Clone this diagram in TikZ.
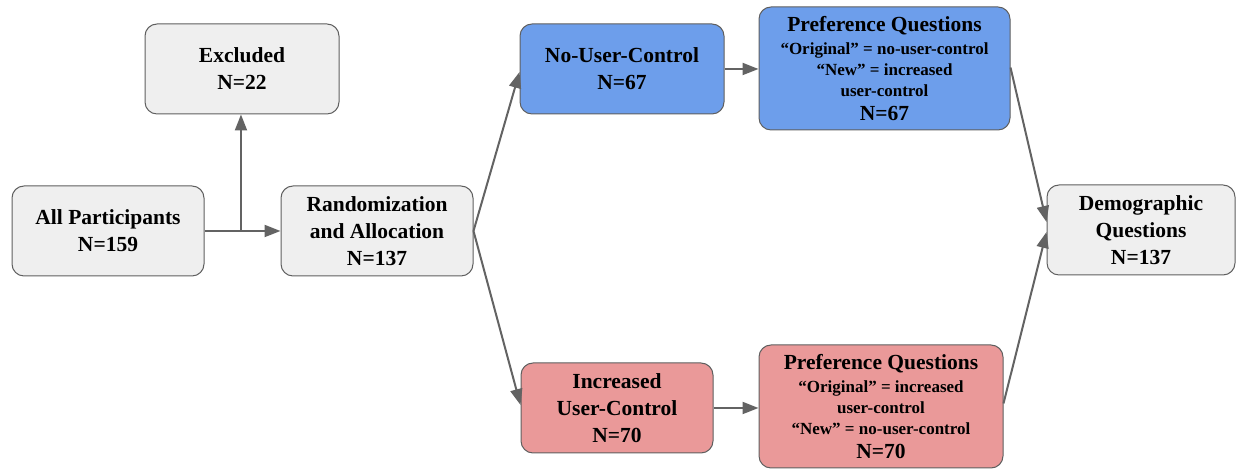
\documentclass[tikz,border=0pt]{standalone}
\usepackage{fontspec}
\setmainfont{LiberationSerif}[Extension=.ttf, UprightFont=*-Regular, BoldFont=*-Bold, ItalicFont=*-Italic, BoldItalicFont=*-BoldItalic]
\usetikzlibrary{arrows.meta,calc}
\definecolor{boxgray}{HTML}{EFEFEF}
\definecolor{boxblue}{HTML}{6D9EEB}
\definecolor{boxred}{HTML}{EA9999}
\definecolor{edgegray}{HTML}{5F5F5F}
\definecolor{linkgray}{HTML}{636363}
\newcommand{\subline}[1]{{\fontsize{17}{20}\selectfont #1}}
\tikzset{
  box/.style={draw=edgegray, line width=1pt, rounded corners=12pt, inner sep=0pt,
    align=center, font=\fontsize{21.5}{27}\selectfont\bfseries, text=black},
  graybox/.style={box, fill=boxgray},
  bluebox/.style={box, fill=boxblue},
  redbox/.style={box, fill=boxred},
  link/.style={draw=linkgray, line width=2pt, -{Triangle[length=16pt,width=12pt]}},
  plain/.style={draw=linkgray, line width=2pt}
}
\begin{document}
\begin{tikzpicture}[x=1pt,y=1pt]
\useasboundingbox (0,0) rectangle (1237,470);

\node[graybox, minimum width=194pt, minimum height=90pt] (excl) at (242,401) {Excluded\\N=22};
\node[graybox, minimum width=192pt, minimum height=90pt] (all) at (108,239) {All Participants\\N=159};
\node[graybox, minimum width=192pt, minimum height=90pt] (rand) at (377,239) {Randomization\\and Allocation\\N=137};
\node[bluebox, minimum width=204pt, minimum height=90pt] (nouser) at (622,401) {No-User-Control\\N=67};
\node[bluebox, minimum width=251pt, minimum height=123pt] (preftop) at (884.5,401.5)
  {Preference Questions\\[-4pt]
   \subline{“Original” = no-user-control}\\[-6pt]
   \subline{“New” = increased}\\[-6pt]
   \subline{user-control}\\[-3pt]
   N=67};
\node[redbox, minimum width=192pt, minimum height=90pt] (inc) at (617,62) {Increased\\User-Control\\N=70};
\node[redbox, minimum width=244pt, minimum height=123pt] (prefbot) at (881,63.5)
  {Preference Questions\\[-4pt]
   \subline{“Original” = increased}\\[-6pt]
   \subline{user-control}\\[-6pt]
   \subline{“New” = no-user-control}\\[-3pt]
   N=70};
\node[graybox, minimum width=188pt, minimum height=90pt] (demo) at (1141,240) {Demographic\\Questions\\N=137};

% exclusion branch
\coordinate (split) at ($(all.east)!0.48!(rand.west)$);
\draw[link] (all.east) -- (rand.west);
\draw[link] (split) -- (split |- excl.south);

% random allocation to the two arms
\draw[link] (rand.east) -- ([yshift=-3pt]nouser.west);
\draw[link] (rand.east) -- ([yshift=3pt]inc.west);

% arms to preference questions
\draw[link] (nouser.east) -- (nouser.east -| preftop.west);
\draw[link] (inc.east) -- (inc.east -| prefbot.west);

% both arms join at the demographic questions
\draw[link] ([yshift=1pt]preftop.east) -- ([yshift=8pt]demo.west);
\draw[link] ([yshift=3pt]prefbot.east) -- ([yshift=-2pt]demo.west);
\end{tikzpicture}
\end{document}
